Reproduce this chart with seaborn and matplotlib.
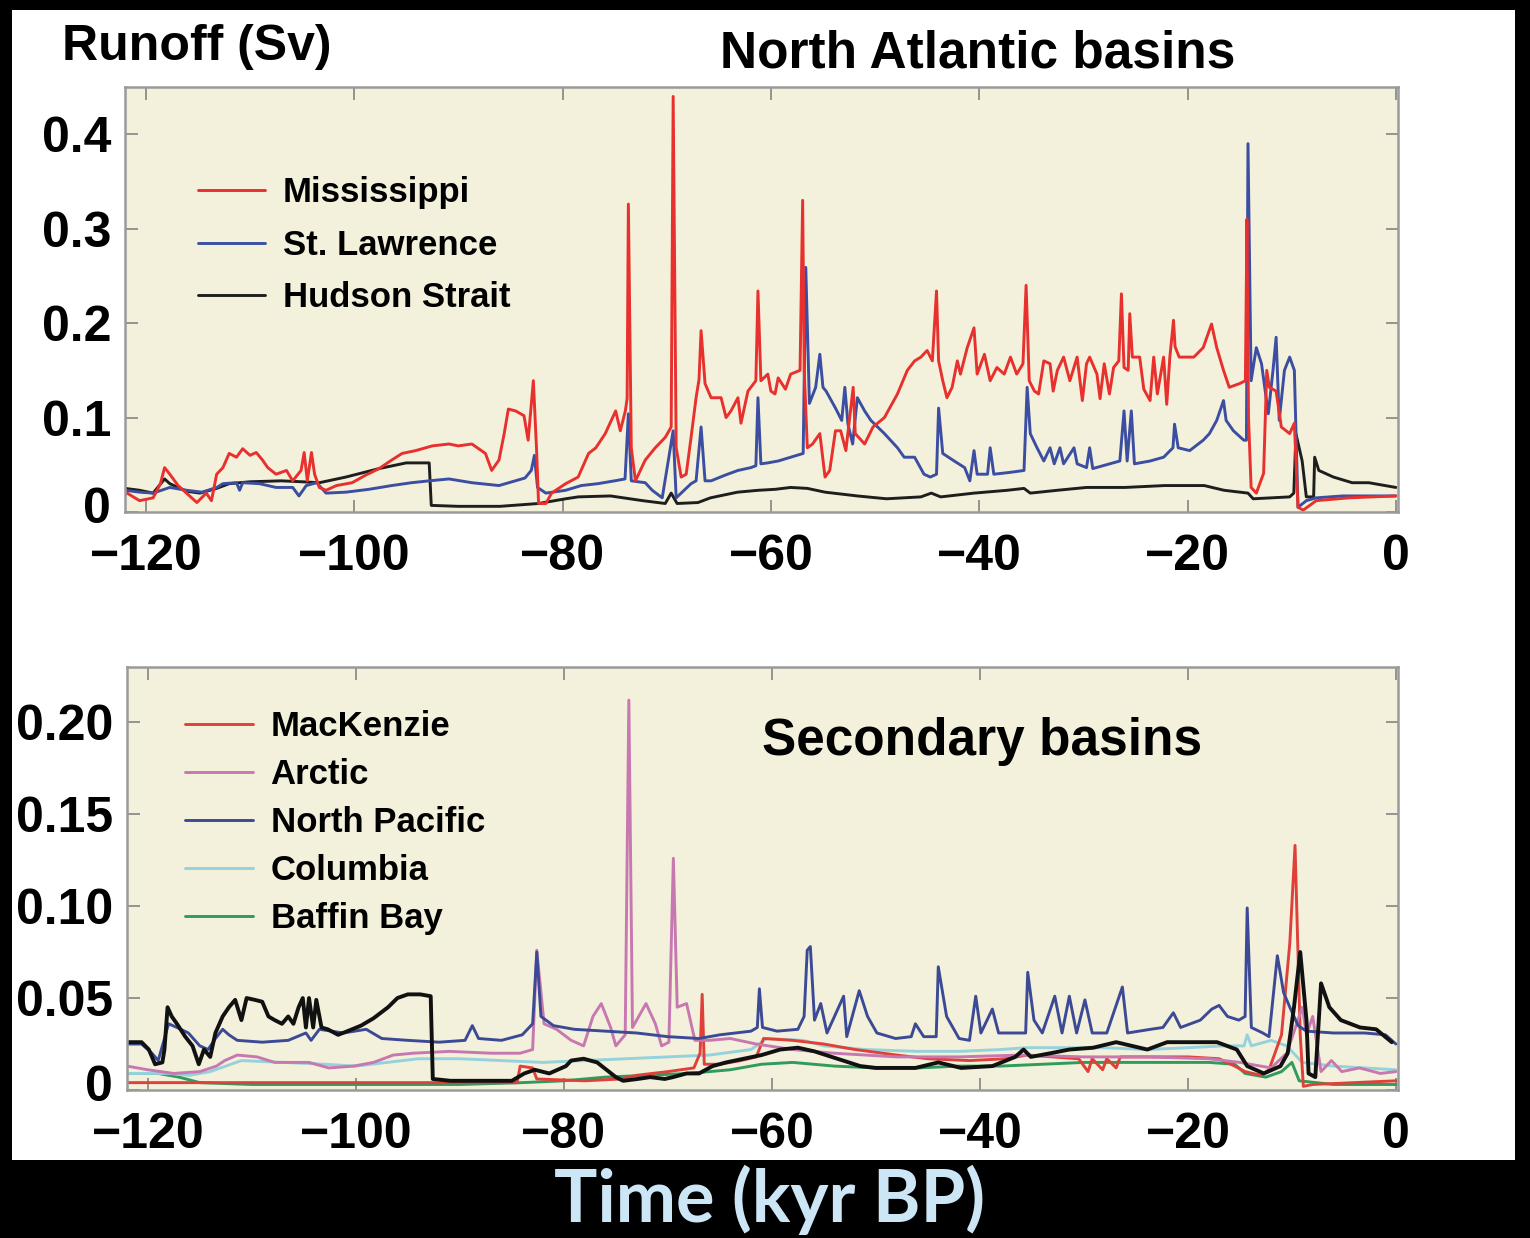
import pandas as pd
import matplotlib
matplotlib.use("Agg")
import matplotlib.pyplot as plt
from matplotlib.patches import Rectangle
from matplotlib.transforms import offset_copy
import seaborn as sns

# ---- data: (time in kyr BP, runoff in Sv) ----
MISSISSIPPI = [
    (-122.0, 0.018), (-121.8, 0.020), (-120.6, 0.012), (-119.3, 0.015), (-118.6, 0.030),
    (-118.2, 0.047), (-117.7, 0.040), (-116.9, 0.028), (-116.1, 0.020), (-115.1, 0.010),
    (-114.2, 0.020), (-113.7, 0.012), (-113.2, 0.040), (-112.6, 0.047), (-112.0, 0.062),
    (-111.3, 0.058), (-110.7, 0.067), (-110.0, 0.060), (-109.4, 0.063), (-108.8, 0.055),
    (-108.3, 0.047), (-107.5, 0.040), (-106.5, 0.044), (-105.9, 0.033), (-105.1, 0.044),
    (-104.8, 0.063), (-104.5, 0.033), (-104.1, 0.063), (-103.8, 0.040), (-103.35, 0.026),
    (-102.7, 0.023), (-101.7, 0.028), (-100.2, 0.031), (-98.9, 0.039), (-97.6, 0.046),
    (-96.4, 0.055), (-95.4, 0.062), (-94.1, 0.065), (-92.5, 0.070), (-90.9, 0.072),
    (-90.0, 0.070), (-88.7, 0.072), (-87.4, 0.062), (-86.8, 0.044), (-86.1, 0.055),
    (-85.6, 0.083), (-85.2, 0.109), (-84.5, 0.107), (-83.7, 0.102), (-83.3, 0.076),
    (-82.8, 0.139), (-82.5, 0.068), (-82.3, 0.009), (-81.6, 0.009), (-81.05, 0.020),
    (-79.7, 0.030), (-78.5, 0.037), (-77.5, 0.062), (-76.8, 0.068), (-75.9, 0.083),
    (-74.9, 0.107), (-74.45, 0.086), (-73.97, 0.107), (-73.8, 0.120), (-73.68, 0.326),
    (-73.4, 0.068), (-73.0, 0.033), (-72.06, 0.055), (-71.1, 0.068), (-70.14, 0.079),
    (-69.57, 0.090), (-69.38, 0.440), (-69.09, 0.068), (-68.61, 0.037), (-68.13, 0.040),
    (-67.66, 0.079), (-67.18, 0.121), (-66.9, 0.140), (-66.7, 0.192), (-66.32, 0.136),
    (-65.74, 0.121), (-64.78, 0.121), (-64.3, 0.100), (-63.83, 0.107), (-63.16, 0.121),
    (-62.87, 0.094), (-62.2, 0.128), (-61.44, 0.139), (-61.24, 0.234), (-60.96, 0.139),
    (-60.29, 0.146), (-60.0, 0.128), (-59.6, 0.125), (-59.3, 0.142), (-58.6, 0.130),
    (-58.1, 0.146), (-57.2, 0.150), (-56.95, 0.330),
    (-56.8, 0.150), (-56.5, 0.068), (-56.0, 0.072), (-55.3, 0.083), (-54.8, 0.037),
    (-54.35, 0.044), (-53.8, 0.086), (-53.3, 0.086), (-52.8, 0.065), (-52.1, 0.132),
    (-51.9, 0.083), (-51.0, 0.072), (-50.2, 0.090), (-49.1, 0.100), (-47.85, 0.125),
    (-46.9, 0.150), (-46.2, 0.160), (-45.6, 0.164), (-45.0, 0.171), (-44.5, 0.160),
    (-44.1, 0.234), (-43.9, 0.160), (-43.5, 0.139), (-43.1, 0.121), (-42.6, 0.132),
    (-42.1, 0.160), (-41.8, 0.146), (-41.15, 0.174), (-40.5, 0.195), (-40.2, 0.146),
    (-39.5, 0.167), (-38.95, 0.139), (-38.3, 0.153), (-37.6, 0.146), (-37.0, 0.164),
    (-36.4, 0.146), (-35.8, 0.157), (-35.5, 0.240), (-35.2, 0.139), (-34.7, 0.128),
    (-34.3, 0.125), (-33.8, 0.160), (-33.2, 0.157), (-32.9, 0.128), (-32.5, 0.150),
    (-31.9, 0.164), (-31.3, 0.139), (-30.6, 0.164), (-30.1, 0.118), (-29.7, 0.157),
    (-29.4, 0.164), (-28.7, 0.146), (-28.4, 0.120), (-28.0, 0.157), (-27.5, 0.125),
    (-27.1, 0.153), (-26.6, 0.160), (-26.35, 0.231), (-26.1, 0.153), (-25.7, 0.150),
    (-25.55, 0.210), (-25.3, 0.164), (-24.6, 0.164), (-24.2, 0.130), (-23.6, 0.118),
    (-23.25, 0.164), (-22.9, 0.125), (-22.3, 0.164), (-22.0, 0.114),
    (-21.7, 0.164), (-21.35, 0.203), (-21.2, 0.175), (-20.8, 0.164), (-19.4, 0.164),
    (-18.5, 0.174), (-17.7, 0.199), (-17.2, 0.174), (-16.55, 0.150), (-16.0, 0.132),
    (-15.0, 0.136), (-14.45, 0.139), (-14.3, 0.310), (-14.15, 0.100), (-13.9, 0.026),
    (-13.4, 0.020), (-12.7, 0.041), (-12.4, 0.150), (-12.15, 0.132), (-11.5, 0.128),
    (-11.0, 0.090), (-10.2, 0.083), (-9.75, 0.094), (-9.4, 0.005), (-8.9, 0.002),
    (-7.65, 0.012), (-4.5, 0.015), (0.0, 0.017),
]

ST_LAWRENCE = [
    (-122.0, 0.023), (-120.6, 0.021), (-119.3, 0.020), (-117.7, 0.026), (-116.1, 0.023),
    (-114.6, 0.021), (-113.2, 0.026), (-112.6, 0.030), (-111.3, 0.031), (-111.0, 0.023),
    (-110.7, 0.031), (-109.1, 0.030), (-107.5, 0.026), (-105.9, 0.026), (-105.3, 0.017),
    (-104.6, 0.028), (-103.6, 0.031), (-102.7, 0.020), (-100.8, 0.021), (-98.6, 0.024),
    (-96.4, 0.028), (-94.5, 0.031), (-92.8, 0.033), (-90.9, 0.035), (-88.7, 0.031),
    (-86.1, 0.028), (-83.6, 0.036), (-83.0, 0.044), (-82.7, 0.060), (-82.4, 0.026),
    (-81.6, 0.020), (-79.7, 0.023), (-78.2, 0.028), (-76.6, 0.030), (-75.0, 0.033),
    (-74.0, 0.035), (-73.68, 0.104), (-73.4, 0.033), (-72.06, 0.031), (-71.39, 0.023),
    (-70.43, 0.015), (-69.38, 0.086), (-69.09, 0.015), (-68.61, 0.020), (-67.66, 0.030),
    (-67.18, 0.033), (-66.7, 0.090), (-66.32, 0.033), (-65.74, 0.033), (-64.4, 0.039),
    (-63.16, 0.044), (-61.92, 0.047), (-61.44, 0.049), (-61.24, 0.121), (-60.96, 0.051),
    (-60.3, 0.052), (-59.3, 0.054), (-58.1, 0.058), (-57.2, 0.061), (-56.9, 0.062),
    (-56.65, 0.259), (-56.3, 0.115), (-55.7, 0.132), (-55.3, 0.167), (-55.0, 0.132),
    (-54.7, 0.128), (-53.8, 0.110), (-53.2, 0.097), (-52.9, 0.132), (-52.6, 0.093),
    (-52.15, 0.072), (-51.7, 0.121), (-51.0, 0.107), (-50.4, 0.097), (-49.1, 0.083),
    (-47.85, 0.068), (-47.2, 0.058), (-46.2, 0.058), (-45.3, 0.040), (-44.7, 0.037),
    (-44.1, 0.040), (-43.9, 0.110), (-43.5, 0.062), (-42.4, 0.054), (-41.4, 0.047),
    (-40.9, 0.033), (-40.5, 0.065), (-40.2, 0.040), (-39.2, 0.040), (-38.95, 0.068),
    (-38.6, 0.040), (-37.0, 0.042), (-35.7, 0.044), (-35.4, 0.132), (-35.1, 0.083),
    (-34.45, 0.068), (-33.8, 0.054), (-33.2, 0.068), (-32.8, 0.051), (-32.25, 0.068),
    (-31.9, 0.051), (-30.9, 0.068), (-30.6, 0.051), (-29.7, 0.047), (-29.4, 0.068),
    (-29.1, 0.046), (-26.5, 0.054), (-26.1, 0.107), (-25.8, 0.054), (-25.4, 0.107),
    (-25.1, 0.051), (-23.6, 0.054), (-22.3, 0.058), (-21.4, 0.068), (-21.25, 0.093),
    (-20.9, 0.068), (-19.8, 0.065), (-18.5, 0.076), (-17.9, 0.083), (-17.2, 0.097),
    (-16.55, 0.118), (-16.3, 0.097), (-15.6, 0.086), (-14.6, 0.076), (-14.35, 0.076),
    (-14.2, 0.390), (-13.9, 0.139), (-13.4, 0.174), (-12.9, 0.157), (-12.25, 0.104),
    (-11.8, 0.150), (-11.5, 0.185), (-11.2, 0.097), (-10.7, 0.150), (-10.2, 0.164),
    (-9.75, 0.150), (-9.6, 0.086), (-9.4, 0.005), (-8.6, 0.012), (-7.65, 0.015),
    (-5.1, 0.017), (0.0, 0.017),
]

HUDSON_STRAIT = [
    (-122.0, 0.025), (-120.6, 0.023), (-119.3, 0.020), (-118.2, 0.035), (-117.7, 0.030),
    (-116.1, 0.022), (-114.8, 0.020), (-113.2, 0.025), (-112.0, 0.030), (-110.0, 0.032),
    (-107.0, 0.033), (-105.0, 0.032), (-103.35, 0.031), (-100.8, 0.037), (-97.6, 0.046),
    (-95.0, 0.052), (-92.8, 0.052), (-92.6, 0.007), (-90.0, 0.006), (-86.0, 0.006),
    (-82.3, 0.009), (-79.7, 0.014), (-78.5, 0.016), (-75.4, 0.017), (-72.3, 0.012),
    (-70.14, 0.009), (-69.57, 0.020), (-69.0, 0.009), (-67.0, 0.010), (-65.8, 0.015),
    (-63.2, 0.021), (-61.2, 0.023), (-59.6, 0.024), (-58.1, 0.026), (-56.5, 0.025),
    (-54.8, 0.021), (-51.7, 0.017), (-48.9, 0.014), (-45.6, 0.016), (-44.6, 0.020),
    (-43.7, 0.016), (-40.5, 0.020), (-37.3, 0.023), (-35.7, 0.025), (-35.1, 0.020),
    (-32.5, 0.023), (-29.7, 0.026), (-26.0, 0.026), (-22.2, 0.028), (-18.4, 0.028),
    (-16.5, 0.023), (-14.2, 0.020), (-13.7, 0.014), (-10.2, 0.016), (-9.8, 0.020),
    (-9.6, 0.083), (-9.0, 0.054), (-8.6, 0.016), (-7.9, 0.016), (-7.8, 0.058),
    (-7.4, 0.044), (-6.0, 0.037), (-4.2, 0.031), (-2.6, 0.031), (0.0, 0.026),
]

MACKENZIE = [
    (-122.0, 0.004), (-110.0, 0.004), (-100.0, 0.004), (-90.0, 0.004), (-84.5, 0.004),
    (-84.2, 0.013), (-83.0, 0.012), (-82.6, 0.006), (-78.0, 0.005), (-74.5, 0.006),
    (-73.0, 0.008), (-70.0, 0.010), (-67.5, 0.012), (-66.9, 0.020), (-66.7, 0.052),
    (-66.5, 0.014), (-65.0, 0.014), (-63.0, 0.016), (-61.5, 0.018), (-60.8, 0.028),
    (-58.0, 0.027), (-55.0, 0.025), (-52.0, 0.022), (-48.0, 0.019), (-45.0, 0.017),
    (-41.0, 0.016), (-37.5, 0.017), (-35.5, 0.019), (-33.0, 0.018), (-30.5, 0.017),
    (-29.6, 0.010), (-29.2, 0.017), (-28.2, 0.011), (-27.8, 0.017), (-26.9, 0.012),
    (-26.5, 0.018), (-24.0, 0.018), (-20.0, 0.018), (-17.0, 0.017), (-15.5, 0.013),
    (-14.5, 0.010), (-13.0, 0.008), (-12.2, 0.011), (-11.0, 0.030), (-10.2, 0.080),
    (-9.7, 0.133), (-9.2, 0.030), (-8.9, 0.002), (-8.0, 0.003), (-4.0, 0.004),
    (0.0, 0.005),
]

ARCTIC = [
    (-122.0, 0.013), (-120.0, 0.011), (-117.5, 0.009), (-115.0, 0.010), (-113.4, 0.013),
    (-112.6, 0.016), (-111.4, 0.019), (-109.5, 0.018), (-107.8, 0.015), (-104.5, 0.015),
    (-102.6, 0.012), (-100.2, 0.013), (-98.3, 0.015), (-96.4, 0.019), (-94.5, 0.020),
    (-91.0, 0.021), (-87.0, 0.020), (-84.2, 0.020), (-83.0, 0.022), (-82.6, 0.076),
    (-81.9, 0.036), (-80.7, 0.033), (-79.3, 0.027), (-78.1, 0.024), (-77.2, 0.040),
    (-76.4, 0.047), (-75.5, 0.034), (-75.0, 0.024), (-74.1, 0.030), (-73.75, 0.212),
    (-73.4, 0.034), (-72.1, 0.047), (-71.2, 0.036), (-70.6, 0.024), (-69.9, 0.026),
    (-69.47, 0.126), (-69.1, 0.045), (-68.2, 0.047), (-67.4, 0.027), (-66.0, 0.027),
    (-64.0, 0.028), (-61.5, 0.025), (-58.0, 0.022), (-54.0, 0.020), (-48.0, 0.018),
    (-42.0, 0.018), (-36.0, 0.019), (-30.0, 0.018), (-24.0, 0.018), (-18.0, 0.017),
    (-15.0, 0.015), (-12.0, 0.012), (-10.5, 0.020), (-9.6, 0.035), (-9.0, 0.045),
    (-8.6, 0.030), (-8.0, 0.040), (-7.2, 0.010), (-6.2, 0.016), (-5.2, 0.010),
    (-3.5, 0.012), (-1.5, 0.009), (0.0, 0.010),
]

NORTH_PACIFIC = [
    (-122.0, 0.025), (-120.6, 0.025), (-119.6, 0.020), (-119.0, 0.016), (-118.3, 0.030),
    (-118.0, 0.036), (-117.2, 0.034), (-116.1, 0.031), (-115.0, 0.024), (-114.2, 0.022),
    (-113.5, 0.028), (-112.8, 0.033), (-112.2, 0.030), (-111.4, 0.027), (-109.0, 0.026),
    (-106.5, 0.027), (-104.8, 0.031), (-104.3, 0.027), (-103.5, 0.033), (-101.2, 0.031),
    (-99.0, 0.033), (-97.5, 0.028), (-95.0, 0.027), (-92.0, 0.026), (-89.5, 0.027),
    (-88.8, 0.035), (-88.2, 0.028), (-86.0, 0.027), (-84.0, 0.030), (-83.0, 0.036),
    (-82.6, 0.075), (-82.2, 0.040), (-81.0, 0.035), (-79.0, 0.033), (-76.0, 0.032),
    (-73.0, 0.031), (-70.0, 0.029), (-67.0, 0.028), (-65.0, 0.030), (-62.0, 0.032),
    (-61.4, 0.034), (-61.2, 0.055), (-60.9, 0.034), (-59.5, 0.032), (-57.5, 0.033),
    (-56.9, 0.040), (-56.6, 0.076), (-56.3, 0.078), (-55.9, 0.038), (-55.3, 0.047),
    (-54.7, 0.031), (-53.1, 0.051), (-52.8, 0.029), (-51.6, 0.054), (-50.8, 0.040),
    (-49.9, 0.031), (-48.1, 0.028), (-46.6, 0.029), (-46.2, 0.036), (-45.4, 0.029),
    (-44.2, 0.029), (-44.0, 0.067), (-43.2, 0.040), (-42.0, 0.028), (-41.0, 0.027),
    (-40.4, 0.051), (-39.9, 0.031), (-38.8, 0.044), (-38.2, 0.031), (-37.1, 0.031),
    (-35.6, 0.031), (-35.4, 0.064), (-34.8, 0.038), (-34.0, 0.031), (-32.8, 0.051),
    (-32.1, 0.031), (-31.4, 0.051), (-30.7, 0.031), (-29.9, 0.049), (-29.2, 0.031),
    (-27.8, 0.031), (-26.3, 0.056), (-25.8, 0.031), (-23.6, 0.033), (-22.4, 0.034),
    (-21.4, 0.042), (-20.7, 0.034), (-18.8, 0.038), (-17.7, 0.044), (-17.0, 0.046),
    (-16.2, 0.040), (-15.1, 0.038), (-14.5, 0.040), (-14.3, 0.099), (-13.9, 0.034),
    (-12.8, 0.031), (-12.2, 0.029), (-11.4, 0.073), (-10.8, 0.053), (-10.2, 0.045),
    (-9.4, 0.035), (-8.6, 0.032), (-6.0, 0.031), (-3.0, 0.031), (-1.0, 0.030),
    (0.0, 0.025),
]

COLUMBIA = [
    (-122.0, 0.009), (-118.0, 0.009), (-116.0, 0.008), (-114.0, 0.010), (-112.5, 0.013),
    (-111.0, 0.016), (-107.0, 0.015), (-103.0, 0.014), (-100.0, 0.013), (-97.0, 0.015),
    (-94.0, 0.017), (-90.0, 0.017), (-86.0, 0.016), (-82.0, 0.015), (-78.0, 0.016),
    (-74.0, 0.017), (-70.0, 0.018), (-66.0, 0.019), (-62.0, 0.022), (-60.5, 0.028),
    (-57.0, 0.027), (-55.0, 0.024), (-51.0, 0.022), (-46.0, 0.021), (-42.0, 0.021),
    (-38.0, 0.022), (-35.5, 0.023), (-32.0, 0.023), (-28.0, 0.023), (-24.0, 0.022),
    (-20.0, 0.023), (-16.5, 0.024), (-14.6, 0.024), (-14.3, 0.030), (-13.9, 0.024),
    (-12.0, 0.027), (-10.5, 0.024), (-9.0, 0.015), (-6.0, 0.013), (-3.0, 0.012),
    (0.0, 0.011),
]

BAFFIN_BAY = [
    (-122.0, 0.009), (-119.0, 0.009), (-117.0, 0.007), (-115.0, 0.004), (-110.0, 0.003),
    (-100.0, 0.003), (-90.0, 0.003), (-84.0, 0.004), (-80.0, 0.005), (-76.0, 0.007),
    (-72.0, 0.008), (-68.0, 0.009), (-64.0, 0.011), (-61.0, 0.014), (-58.0, 0.015),
    (-54.0, 0.013), (-50.0, 0.012), (-46.0, 0.012), (-42.0, 0.013), (-38.0, 0.013),
    (-34.0, 0.014), (-30.0, 0.015), (-26.0, 0.015), (-22.0, 0.015), (-18.0, 0.015),
    (-15.5, 0.014), (-14.5, 0.009), (-12.5, 0.007), (-11.0, 0.010), (-10.0, 0.015),
    (-9.3, 0.005), (-6.0, 0.003), (0.0, 0.003),
]

# bold black trace in the lower panel (no legend entry in the original)
UNLABELLED = [
    (-122.0, 0.026), (-120.6, 0.026), (-119.9, 0.022), (-119.3, 0.014), (-118.6, 0.015),
    (-118.4, 0.022), (-118.1, 0.045), (-117.7, 0.040), (-117.2, 0.036), (-116.4, 0.029),
    (-115.7, 0.024), (-115.1, 0.014), (-114.6, 0.022), (-114.0, 0.018), (-113.5, 0.031),
    (-112.8, 0.040), (-112.2, 0.045), (-111.6, 0.049), (-111.0, 0.038), (-110.5, 0.050),
    (-109.7, 0.049), (-109.0, 0.048), (-108.4, 0.040), (-107.8, 0.038), (-107.1, 0.036),
    (-106.5, 0.040), (-106.0, 0.036), (-105.5, 0.045), (-105.1, 0.050), (-104.8, 0.034),
    (-104.5, 0.050), (-104.1, 0.034), (-103.8, 0.049), (-103.3, 0.034), (-102.7, 0.033),
    (-101.7, 0.030), (-100.8, 0.032), (-99.5, 0.035), (-98.3, 0.039), (-96.9, 0.045),
    (-96.0, 0.050), (-95.0, 0.052), (-93.8, 0.052), (-92.8, 0.051), (-92.6, 0.006),
    (-90.9, 0.005), (-85.0, 0.005), (-83.8, 0.009), (-82.8, 0.011), (-81.4, 0.009),
    (-79.8, 0.013), (-79.3, 0.016), (-78.1, 0.017), (-76.8, 0.015), (-75.9, 0.011),
    (-75.0, 0.007), (-74.3, 0.005), (-72.9, 0.006), (-71.7, 0.007), (-70.3, 0.006),
    (-69.5, 0.007), (-68.2, 0.009), (-67.0, 0.009), (-65.7, 0.013), (-64.4, 0.015),
    (-62.7, 0.017), (-61.0, 0.019), (-59.2, 0.022), (-57.5, 0.023), (-55.9, 0.021),
    (-53.7, 0.017), (-51.5, 0.013), (-50.0, 0.012), (-46.2, 0.012), (-44.0, 0.015),
    (-41.8, 0.012), (-38.8, 0.013), (-36.6, 0.018), (-35.8, 0.022), (-35.1, 0.018),
    (-33.2, 0.020), (-31.4, 0.022), (-29.1, 0.023), (-26.9, 0.026), (-25.4, 0.024),
    (-23.9, 0.022), (-22.0, 0.026), (-20.2, 0.026), (-17.2, 0.026), (-15.3, 0.022),
    (-14.3, 0.013), (-12.7, 0.009), (-11.1, 0.013), (-10.4, 0.020), (-9.8, 0.045),
    (-9.2, 0.075), (-8.6, 0.038), (-8.4, 0.009), (-7.75, 0.007), (-7.2, 0.058),
    (-6.4, 0.045), (-5.3, 0.038), (-3.45, 0.034), (-1.9, 0.033), (-0.4, 0.026),
]

TIME_TICKS = [-120, -100, -80, -60, -40, -20, 0]
TIME_LABELS = ["\u2212120", "\u2212100", "\u221280", "\u221260", "\u221240", "\u221220", "0"]
TOP_TICKS = [0, 0.1, 0.2, 0.3, 0.4]
TOP_LABELS = ["0", "0.1", "0.2", "0.3", "0.4"]
LOW_TICKS = [0, 0.05, 0.10, 0.15, 0.20]
LOW_LABELS = ["0", "0.05", "0.10", "0.15", "0.20"]

# ---- style ----
sns.set_theme(style="ticks")
plt.rcParams["font.family"] = ["Liberation Sans", "DejaVu Sans"]
plt.rcParams["font.weight"] = "bold"
plt.rcParams["text.color"] = "black"

PANEL_BG = "#f3f1db"
FRAME = "#9a9a9a"


def draw(ax, series, name, color, lw):
    df = pd.DataFrame(series, columns=["time", "runoff"])
    sns.lineplot(data=df, x="time", y="runoff", ax=ax, color=color, lw=lw,
                 label=name, estimator=None, sort=False)


def style_axes(ax, yticks, ylabels, ylim):
    ax.set_facecolor(PANEL_BG)
    ax.set_xlim(-122, 0.2)
    ax.set_ylim(*ylim)
    ax.set_xticks(TIME_TICKS)
    ax.set_xticklabels(TIME_LABELS)
    ax.set_yticks(yticks)
    ax.set_yticklabels(ylabels)
    ax.set_xlabel("")
    ax.set_ylabel("")
    for sp in ax.spines.values():
        sp.set_color(FRAME)
        sp.set_linewidth(1.8)
    ax.tick_params(direction="in", length=9, width=1.3, color="#8c8c8c",
                   top=True, right=True, labelsize=36, labelcolor="black")
    ax.tick_params(axis="x", pad=16)
    ax.tick_params(axis="y", pad=10)
    for lab in ax.get_xticklabels() + ax.get_yticklabels():
        lab.set_fontweight("bold")
    # lift the "0" label a touch so it clears the -120 label below it
    zero = ax.get_yticklabels()[0]
    zero.set_transform(offset_copy(zero.get_transform(), fig=ax.figure, y=7, units="dots"))


fig = plt.figure(figsize=(15.3, 12.38), dpi=100)
fig.patch.set_facecolor("white")

ax1 = fig.add_axes([125 / 1530, 1 - 512 / 1238, 1273 / 1530, 425 / 1238])
ax2 = fig.add_axes([127 / 1530, 1 - 1090 / 1238, 1271 / 1530, 423 / 1238])

# upper panel
draw(ax1, HUDSON_STRAIT, "Hudson Strait", "#1e1e1e", 2.1)
draw(ax1, ST_LAWRENCE, "St. Lawrence", "#3b4ea2", 2.1)
draw(ax1, MISSISSIPPI, "Mississippi", "#e8302e", 2.1)
style_axes(ax1, TOP_TICKS, TOP_LABELS, (0, 0.45))
h, l = ax1.get_legend_handles_labels()
order = [l.index("Mississippi"), l.index("St. Lawrence"), l.index("Hudson Strait")]
ax1.legend([h[i] for i in order], [l[i] for i in order], loc="upper left",
           bbox_to_anchor=(0.057, 0.79), frameon=False, fontsize=25,
           handlelength=1.95, handletextpad=0.5, labelspacing=0.56,
           borderaxespad=0, borderpad=0)

# lower panel
draw(ax2, BAFFIN_BAY, "Baffin Bay", "#2f9b5c", 2.1)
draw(ax2, COLUMBIA, "Columbia", "#96d2dc", 2.1)
draw(ax2, MACKENZIE, "MacKenzie", "#e0403a", 2.1)
draw(ax2, ARCTIC, "Arctic", "#c878b0", 2.1)
draw(ax2, NORTH_PACIFIC, "North Pacific", "#3c4a96", 2.1)
draw(ax2, UNLABELLED, None, "#111111", 2.8)
style_axes(ax2, LOW_TICKS, LOW_LABELS, (0, 0.23))
h, l = ax2.get_legend_handles_labels()
names = ["MacKenzie", "Arctic", "North Pacific", "Columbia", "Baffin Bay"]
ax2.legend([h[l.index(n)] for n in names], names, loc="upper left",
           bbox_to_anchor=(0.046, 0.898), frameon=False, fontsize=25,
           handlelength=1.95, handletextpad=0.5, labelspacing=0.43,
           borderaxespad=0, borderpad=0)

# titles
fig.text(62 / 1530, 1 - 60 / 1238, "Runoff (Sv)", fontsize=36, fontweight="bold",
         ha="left", va="baseline")
fig.text(720 / 1530, 1 - 68 / 1238, "North Atlantic basins", fontsize=37,
         fontweight="bold", ha="left", va="baseline")
fig.text(762 / 1530, 1 - 755 / 1238, "Secondary basins", fontsize=37,
         fontweight="bold", ha="left", va="baseline")

# black frame around the slide
for x0, y0, w, hgt in [(0, 0, 12 / 1530, 1), (1515 / 1530, 0, 15 / 1530, 1),
                       (0, 1 - 10 / 1238, 1, 10 / 1238), (0, 0, 1, 78 / 1238)]:
    fig.patches.append(Rectangle((x0, y0), w, hgt, transform=fig.transFigure,
                                 facecolor="black", edgecolor="none", zorder=10))

fig.text(770 / 1530, 1 - 1222 / 1238, "Time (kyr BP)", fontsize=52,
         fontweight="bold", family=["Lato", "DejaVu Sans"], color="#cde6f6",
         ha="center", va="baseline", zorder=11)

fig.savefig("out.png", dpi=100)
